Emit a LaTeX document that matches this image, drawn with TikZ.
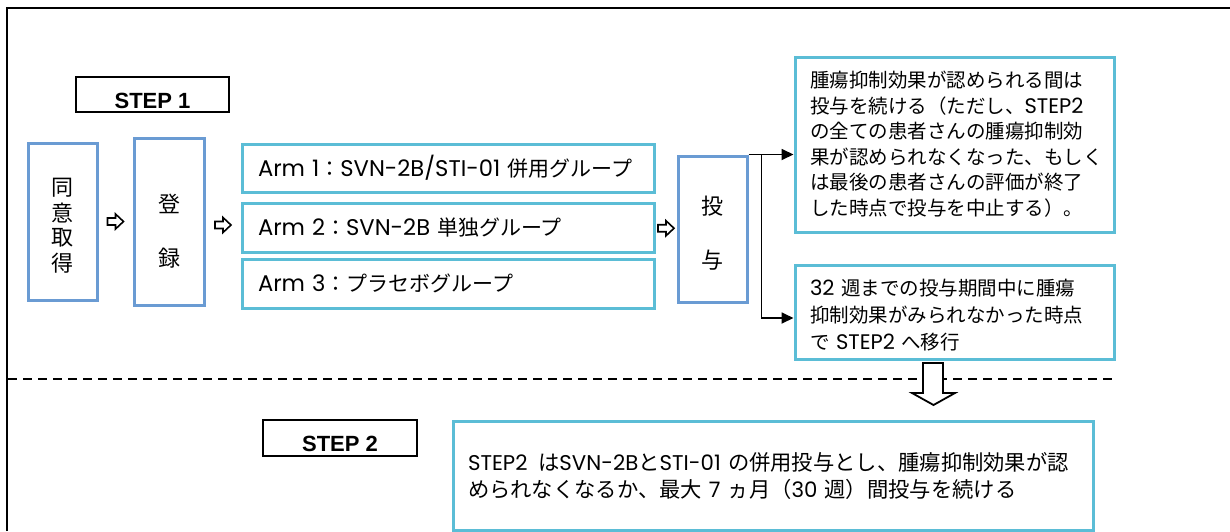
\documentclass[tikz,border=0pt]{standalone}
\usepackage{fontspec}
\setmainfont{Noto Sans CJK JP}
\newfontfamily\stepfont{Liberation Sans}
\newfontfamily\lat{Poppins}[Scale=1.08]
\newfontfamily\latc{Poppins}[Scale=1.0]
\usetikzlibrary{arrows.meta,calc}
\definecolor{boxblue}{HTML}{6A9BD3}
\definecolor{boxcyan}{HTML}{5BBDD6}
\newcommand\shiftdown[2]{\raisebox{-#1}[\height][\depth]{#2}}
\begin{document}
\begin{tikzpicture}[x=1pt,y=-1pt,
  bluebox/.style={draw=boxblue, line width=3pt, inner sep=0pt, align=center,
    font=\fontsize{22}{24}\selectfont},
  cyanbox/.style={draw=boxcyan, line width=3pt, inner ysep=0pt, align=left,
    font=\fontsize{19.5}{25.5}\selectfont},
  armbox/.style={cyanbox, minimum width=412pt, inner xsep=16pt, text width=380pt,
    font=\fontsize{21}{24}\selectfont},
  stepbox/.style={draw=black, line width=2.2pt, inner sep=0pt,
    font=\stepfont\bfseries\fontsize{22}{22}\selectfont},
  hollow/.style={draw=black, line width=1.6pt, fill=white, line join=miter},
  conn/.style={draw=black, line width=1.8pt, -{Triangle[length=12pt,width=11pt]}},
  frame/.style={draw=black, line width=2.4pt}]
\useasboundingbox (0,0) rectangle (1230,531);
\fill[white] (0,0) rectangle (1230,531);
% frame
\draw[frame] (7,531) -- (7,8) -- (1230,8);
% dashed separator
\draw[black, line width=2pt, dash pattern=on 9pt off 6pt] (8,379) -- (1114,379);

% STEP labels
\node[stepbox, minimum width=153pt, minimum height=35pt] (step1) at (152.5,94.5) {\raisebox{-14pt}[0pt][0pt]{STEP 1}};
\node[stepbox, minimum width=154pt, minimum height=36pt] (step2) at (340,438) {\raisebox{-13pt}[0pt][0pt]{STEP 2}};

% left boxes
\node[bluebox, minimum width=69pt, minimum height=157pt] (consent) at (62.5,221.5) {\shiftdown{7pt}{\begin{tabular}{@{}c@{}}同\\意\\取\\得\end{tabular}}};
\node[bluebox, minimum width=70pt, minimum height=167pt, font=\fontsize{22}{54}\selectfont] (reg) at (169,221.5) {\shiftdown{7pt}{\begin{tabular}{@{}c@{}}登\\録\end{tabular}}};

% arms
\node[armbox, minimum height=48pt] (arm1) at (448,168) {{\lat Arm 1}：{\lat SVN-2B/STI-01} 併用グループ};
\node[armbox, minimum height=49pt] (arm2) at (448,227.5) {{\lat Arm 2}：{\lat SVN-2B} 単独グループ};
\node[armbox, minimum height=49pt] (arm3) at (448,283.5) {{\lat Arm 3}：プラセボグループ};

% dosing
\node[bluebox, minimum width=69pt, minimum height=146pt, font=\fontsize{22}{54}\selectfont] (dose) at (712.5,229) {\shiftdown{2pt}{\begin{tabular}{@{}c@{}}投\\与\end{tabular}}};

% right boxes
\node[cyanbox, minimum width=319pt, minimum height=175pt, inner xsep=15pt, text width=289pt] (boxA) at (954.5,144.5) {\shiftdown{2pt}{\begin{tabular}{@{}l@{}}腫瘍抑制効果が認められる間は\\投与を続ける（ただし、{\lat STEP2}\\の全ての患者さんの腫瘍抑制効\\果が認められなくなった、もしく\\は最後の患者さんの評価が終了\\した時点で投与を中止する）。\end{tabular}}};
\node[cyanbox, minimum width=319pt, minimum height=94pt, inner xsep=15pt, text width=289pt, font=\fontsize{19.5}{27}\selectfont] (boxB) at (954.5,312) {\shiftdown{5pt}{\begin{tabular}{@{}l@{}}{\lat 32} 週までの投与期間中に腫瘍\\抑制効果がみられなかった時点\\で {\lat STEP2} へ移行\end{tabular}}};

% step 2 box
\node[cyanbox, minimum width=640pt, minimum height=109pt, inner xsep=15pt, text width=610pt, font=\fontsize{21.3}{27}\selectfont] (boxC) at (773,475.5) {\shiftdown{3pt}{\begin{tabular}{@{}l@{}}{\latc STEP2} \,は{\latc SVN-2B}と{\latc STI-01} の併用投与とし、腫瘍抑制効果が認\\められなくなるか、最大 {\latc 7} ヵ月（{\latc 30} 週）間投与を続ける\end{tabular}}};

% hollow arrows
\newcommand\harrow[1]{%
  \draw[hollow] ($(#1)+(-8,-3.5)$) -- ++(8,0) -- ++(0,-4) -- ++(8,7.5) -- ++(-8,7.5) -- ++(0,-4) -- ++(-8,0) -- cycle;}
\coordinate (h1) at ($(consent.east)!0.5!(reg.west)$);
\coordinate (h2) at ($(reg.east)!0.5!(arm2.west)+(0,0.5)$);
\coordinate (h3) at ($(arm2.east)!0.5!(dose.west)$);
\harrow{h1}
\harrow{h2}
\harrow{h3}

% connectors
\coordinate (split) at ($(dose.north east)+(13,0)$);
\coordinate (bentry) at ($(boxB.west)+(0,6)$);
\draw[conn] (dose.north east) -- (dose.north east -| boxA.west);
\draw[conn] (split) |- (bentry);

% big down arrow
\draw[hollow, line width=1.8pt] (923,363) -- (943,363) -- (943,393) -- (955,393) -- (933.5,405) -- (912,393) -- (923,393) -- cycle;
\end{tikzpicture}
\end{document}
